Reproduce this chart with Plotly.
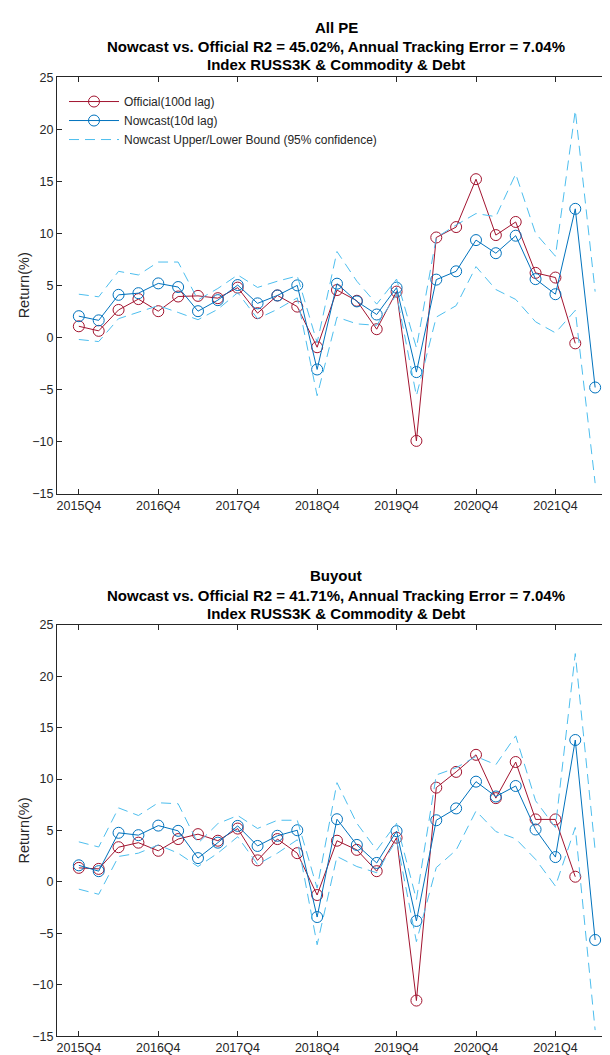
import plotly.graph_objects as go

quarters = ["2015Q4", "2016Q1", "2016Q2", "2016Q3", "2016Q4", "2017Q1", "2017Q2", "2017Q3",
            "2017Q4", "2018Q1", "2018Q2", "2018Q3", "2018Q4", "2019Q1", "2019Q2", "2019Q3",
            "2019Q4", "2020Q1", "2020Q2", "2020Q3", "2020Q4", "2021Q1", "2021Q2", "2021Q3",
            "2021Q4", "2022Q1", "2022Q2"]
tick_labels = ["2015Q4", "2016Q4", "2017Q4", "2018Q4", "2019Q4", "2020Q4", "2021Q4"]

# All PE
pe_official = [1.07, 0.63, 2.64, 3.68, 2.52, 3.93, 3.99, 3.77, 4.78, 2.33, 4.03, 2.96, -0.94,
               4.55, 3.52, 0.79, 4.40, -9.94, 9.6, 10.6, 15.2, 9.83, 11.09, 6.2, 5.75, -0.57, None]
pe_nowcast = [2.04, 1.64, 4.09, 4.25, 5.19, 4.84, 2.52, 3.58, 5.03, 3.27, 4.03, 5.0, -3.08,
              5.16, 3.46, 2.2, 4.78, -3.33, 5.55, 6.35, 9.35, 8.09, 9.77, 5.6, 4.15, 12.35, -4.81]
pe_upper = [4.15, 3.9, 6.35, 6.0, 7.24, 7.24, 3.6, 4.7, 6.0, 4.8, 5.4, 5.9, -0.5,
            8.25, 5.4, 3.2, 5.6, -1.0, 9.6, 10.8, 11.9, 11.6, 15.7, 10.0, 7.8, 21.8, 4.4]
pe_lower = [-0.2, -0.4, 1.8, 2.4, 3.05, 2.4, 1.7, 2.7, 4.3, 1.8, 2.7, 3.8, -5.6,
            1.95, 1.3, 1.16, 4.15, -5.6, 1.95, 3.05, 6.8, 4.6, 3.65, 1.5, 0.44, 2.6, -14.0]

# Buyout
bo_official = [1.37, 1.27, 3.38, 3.82, 3.03, 4.17, 4.65, 4.01, 5.19, 2.1, 4.17, 2.8, -1.27,
               4.01, 3.12, 1.05, 4.3, -11.53, 9.17, 10.7, 12.36, 8.15, 11.66, 6.08, 6.08, 0.51, None]
bo_nowcast = [1.62, 1.05, 4.78, 4.55, 5.48, 4.97, 2.32, 3.82, 5.45, 3.5, 4.49, 5.03, -3.41,
              6.1, 3.6, 1.85, 4.94, -3.79, 6.0, 7.15, 9.75, 8.31, 9.33, 5.1, 2.42, 13.8, -5.64]
bo_upper = [3.9, 3.4, 7.2, 6.46, 7.7, 7.6, 3.76, 5.67, 6.46, 5.2, 6.0, 6.0, -0.6,
            9.65, 5.7, 3.1, 5.7, -1.7, 10.4, 11.1, 12.2, 11.4, 14.2, 7.9, 5.3, 22.2, 3.1]
bo_lower = [-0.7, -1.2, 2.48, 2.8, 3.6, 2.8, 1.5, 2.8, 4.4, 1.7, 2.8, 4.1, -6.1,
            2.48, 1.5, 0.9, 4.1, -5.8, 1.4, 3.1, 6.9, 4.9, 4.2, 2.2, -0.4, 5.3, -14.4]

titles_pe = ["All PE", "Nowcast vs. Official R2 = 45.02%, Annual Tracking Error = 7.04%",
             "Index RUSS3K & Commodity & Debt"]
titles_bo = ["Buyout", "Nowcast vs. Official R2 = 41.71%, Annual Tracking Error = 7.04%",
             "Index RUSS3K & Commodity & Debt"]

RED = "#A2142F"
BLUE = "#0072BD"
LBLUE = "#4DBEEE"
W, H = 610, 1055
FONT = "Liberation Sans, Arial, sans-serif"
AX = "#262626"

fig = go.Figure()


def add_panel(off, now, up, lo, xa, ya, legend):
    fig.add_trace(go.Scatter(x=quarters, y=off, mode="lines+markers", name="Official(100d lag)",
                             line=dict(color=RED, width=1),
                             marker=dict(symbol="circle-open", size=11, color=RED, line=dict(width=1)),
                             xaxis=xa, yaxis=ya, showlegend=legend))
    fig.add_trace(go.Scatter(x=quarters, y=now, mode="lines+markers", name="Nowcast(10d lag)",
                             line=dict(color=BLUE, width=1),
                             marker=dict(symbol="circle-open", size=11, color=BLUE, line=dict(width=1)),
                             xaxis=xa, yaxis=ya, showlegend=legend))
    fig.add_trace(go.Scatter(x=quarters, y=up, mode="lines",
                             name="Nowcast Upper/Lower Bound (95% confidence)",
                             line=dict(color=LBLUE, width=1, dash="10px,6px"),
                             xaxis=xa, yaxis=ya, showlegend=legend, legendgroup="b"))
    fig.add_trace(go.Scatter(x=quarters, y=lo, mode="lines",
                             name="Nowcast Upper/Lower Bound (95% confidence)",
                             line=dict(color=LBLUE, width=1, dash="10px,6px"),
                             xaxis=xa, yaxis=ya, showlegend=False, legendgroup="b"))


add_panel(pe_official, pe_nowcast, pe_upper, pe_lower, "x", "y", True)
add_panel(bo_official, bo_nowcast, bo_upper, bo_lower, "x2", "y2", False)

xdom = [49 / W, 607 / W]
top_dom = [1 - 485 / H, 1 - 63 / H]
bot_dom = [1 - 1035 / H, 1 - 618 / H]

xcommon = dict(type="category", categoryorder="array", categoryarray=quarters,
               range=[-1.1, 27.0], tickmode="array", tickvals=tick_labels, ticktext=tick_labels,
               showline=True, linecolor=AX, linewidth=1, mirror="ticks", ticks="inside",
               ticklen=5, tickcolor=AX, showgrid=False, zeroline=False,
               tickfont=dict(family=FONT, size=12.5, color=AX), domain=xdom)
ycommon = dict(range=[-15, 25], tickmode="linear", tick0=-15, dtick=5,
               showline=True, linecolor=AX, linewidth=1, mirror="ticks", ticks="inside",
               ticklen=5, tickcolor=AX, showgrid=False, zeroline=False,
               tickfont=dict(family=FONT, size=12.5, color=AX))

fig.update_layout(
    width=W, height=H, margin=dict(l=0, r=0, t=0, b=0),
    paper_bgcolor="white", plot_bgcolor="white",
    xaxis=dict(**xcommon, anchor="y"),
    yaxis=dict(**ycommon, domain=top_dom, anchor="x"),
    xaxis2=dict(**xcommon, anchor="y2"),
    yaxis2=dict(**ycommon, domain=bot_dom, anchor="x2"),
    legend=dict(x=56 / W, y=1 - 73 / H, xanchor="left", yanchor="top",
                bgcolor="rgba(255,255,255,0)", borderwidth=0, itemwidth=50,
                font=dict(family=FONT, size=12, color=AX), tracegroupgap=0),
    showlegend=True,
)

annotations = []
xc = (49 + 607) / 2 / W
for lines, ys in ((titles_pe, [13, 32, 50]), (titles_bo, [568, 588, 607])):
    for t, yy in zip(lines, ys):
        annotations.append(dict(text="<b>" + t + "</b>", x=xc, y=1 - yy / H, xref="paper", yref="paper",
                                xanchor="center", yanchor="middle", showarrow=False,
                                font=dict(family=FONT, size=15, color="black")))
for dom in (top_dom, bot_dom):
    annotations.append(dict(text="Return(%)", x=16 / W, y=(dom[0] + dom[1]) / 2, xref="paper",
                            yref="paper", xanchor="center", yanchor="middle", showarrow=False,
                            textangle=-90, font=dict(family=FONT, size=14.5, color=AX)))
fig.update_layout(annotations=annotations)

fig.write_html("out.html")
